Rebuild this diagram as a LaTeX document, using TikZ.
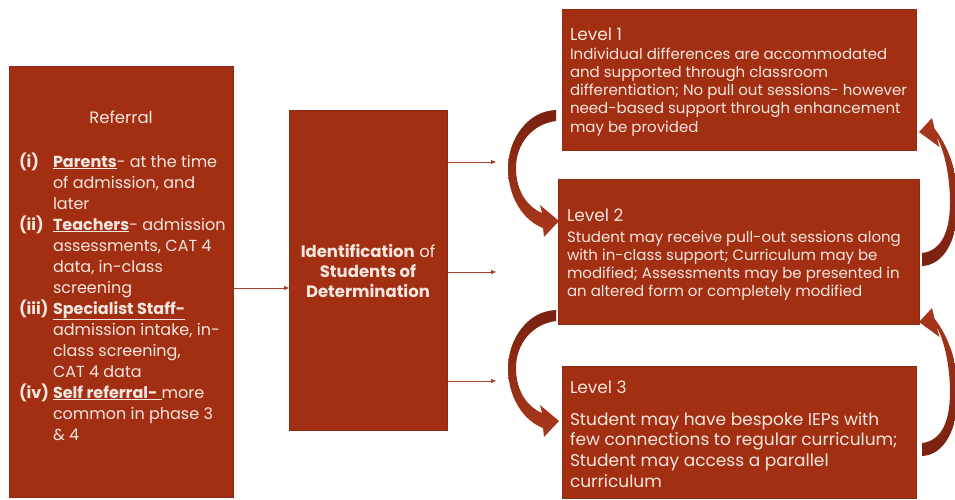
\documentclass[tikz,border=0pt]{standalone}
\usepackage{fontspec}
\setmainfont{Poppins}
\usetikzlibrary{arrows.meta}
\definecolor{boxred}{HTML}{A32F12}
\definecolor{boxedge}{HTML}{8E2B14}
\definecolor{txtc}{HTML}{F4E6E0}
\definecolor{conn}{HTML}{A9412A}
\definecolor{arrdark}{HTML}{7A2111}
\definecolor{arrlight}{HTML}{A9381C}
\newcommand{\txtlines}[3]{\fontsize{#1}{#2}\selectfont\begin{tabular}[t]{@{}l@{}}#3\end{tabular}}
\newcommand{\lab}[1]{\makebox[34pt][l]{\bfseries #1}}
\begin{document}
\begin{tikzpicture}[x=1pt,y=-1pt,
  box/.style={draw=boxedge, line width=0.6pt, fill=boxred, inner sep=0pt, outer sep=0pt, anchor=north west},
  lbl/.style={text=txtc, inner sep=0pt, outer sep=0pt, anchor=base west},
  conline/.style={draw=conn, line width=0.8pt, -{Triangle[length=5pt,width=4pt]}},
  leftarrow/.style={top color=arrdark, bottom color=arrlight},
  rightarrow/.style={top color=arrlight, bottom color=arrdark}
]
\useasboundingbox (0,0) rectangle (955,499);

% boxes
\node[box, minimum width=224pt, minimum height=431pt] (ref) at (9,66) {};
\node[box, minimum width=158pt, minimum height=320pt] (ident) at (289,110) {};
\node[box, minimum width=354pt, minimum height=141pt] (lv1) at (562,9) {};
\node[box, minimum width=361pt, minimum height=145pt] (lv2) at (558,179) {};
\node[box, minimum width=354pt, minimum height=132pt] (lv3) at (562,366) {};

% referral text
\node[lbl, anchor=base] (reftitle) at (121,123) {\fontsize{16.5}{21}\selectfont Referral};
\node[lbl] (reflist) at (19,167) {\fontsize{16}{21}\selectfont\begin{tabular}[t]{@{}l@{}}
\lab{(i)}\underline{\textbf{Parents}}- at the time\\
\lab{}of admission, and\\
\lab{}later\\
\lab{(ii)}\underline{\textbf{Teachers}}- admission\\
\lab{}assessments, CAT 4\\
\lab{}data, in-class\\
\lab{}screening\\
\lab{(iii)}\underline{\textbf{Specialist Staff-}}\\
\lab{}admission intake, in-\\
\lab{}class screening,\\
\lab{}CAT 4 data\\
\lab{(iv)}\underline{\textbf{Self referral-}~}more\\
\lab{}common in phase 3\\
\lab{}\& 4
\end{tabular}};

% identification text
\node[lbl, anchor=base] (identtext) at (368,257) {\fontsize{16.5}{20}\selectfont\begin{tabular}[t]{@{}c@{}}
\textbf{Identification} of\\
\textbf{Students of}\\
\textbf{Determination}
\end{tabular}};

% level texts
\node[lbl] (lv1title) at (570,40) {\fontsize{17}{20}\selectfont Level 1};
\node[lbl] (lv1text) at (570,59) {\txtlines{15}{18.3}{Individual differences are accommodated\\
and supported through classroom\\
differentiation; No pull out sessions- however\\
need-based support through enhancement\\
may be provided}};
\node[lbl] (lv2title) at (567,221) {\fontsize{17}{20}\selectfont Level 2};
\node[lbl] (lv2text) at (567,242) {\txtlines{15}{18.3}{Student may receive pull-out sessions along\\
with in-class support; Curriculum may be\\
modified; Assessments may be presented in\\
an altered form or completely modified}};
\node[lbl] (lv3title) at (570,393) {\fontsize{17}{20}\selectfont Level 3};
\node[lbl] (lv3text) at (570,425) {\txtlines{17}{20.7}{Student may have bespoke IEPs with\\
few connections to regular curriculum;\\
Student may access a parallel\\
curriculum}};

% connectors
\coordinate (e1) at (496,162);
\coordinate (e2) at (496,272);
\coordinate (e3) at (496,381);
\draw[conline] (ref.east |- 0,288) -- (ident.west |- 0,288);
\draw[conline] (ident.east |- e1) -- (e1);
\draw[conline] (ident.east |- e2) -- (e2);
\draw[conline] (ident.east |- e3) -- (e3);

% curved arrows on the left (downwards)
\foreach \dy in {0,200}{
\begin{scope}[yshift=-\dy pt]
\shade[leftarrow] (556,110) .. controls (527,111) and (508,140) .. (508,168)
  .. controls (508,198) and (524,221) .. (543,228) -- (544,237) -- (559,221) -- (540,205) -- (542,213)
  .. controls (528,207) and (516,192) .. (516,168)
  .. controls (516,144) and (532,124) .. (556,121) -- cycle;
\end{scope}}
% curved arrows on the right (upwards)
\foreach \dy in {0,190}{
\begin{scope}[yshift=-\dy pt]
\shade[rightarrow] (922,266) .. controls (944,265) and (958,240) .. (958,202)
  .. controls (958,172) and (948,146) .. (934.5,128.5) -- (932,118) -- (919,132) -- (939.5,147) -- (936.5,136.5)
  .. controls (945,152) and (950,178) .. (950,202)
  .. controls (950,234) and (940,251) .. (922,253) -- cycle;
\end{scope}}
\end{tikzpicture}
\end{document}
